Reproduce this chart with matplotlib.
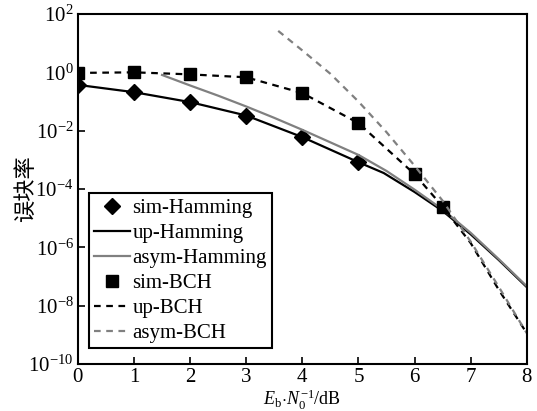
import matplotlib
matplotlib.use('Agg')
import matplotlib.pyplot as plt
import numpy as np

plt.rcParams['font.family'] = ['Liberation Serif', 'Noto Sans CJK SC']
plt.rcParams['mathtext.fontset'] = 'custom'
plt.rcParams['mathtext.rm'] = 'Liberation Serif'
plt.rcParams['mathtext.it'] = 'Liberation Serif:italic'

# 仿真点 (log10 值)
sim_x = [0, 1, 2, 3, 4, 5]
sim_ham = [-0.43, -0.68, -1.02, -1.48, -2.22, -3.08]
bch_x = [0, 1, 2, 3, 4, 5, 6, 6.5]
sim_bch = [-0.02, 0.0, -0.07, -0.17, -0.71, -1.74, -3.49, -4.6]

# 上界 / 渐近曲线 (log10 值)
up_ham_x = [0, 1, 2, 3, 4, 5, 5.45, 6, 6.5, 7, 7.5, 8]
up_ham = [-0.43, -0.68, -1.02, -1.48, -2.22, -3.08, -3.45, -4.1, -4.75, -5.55, -6.43, -7.36]
asym_ham_x = [1.5, 2, 2.5, 3, 3.5, 4, 4.5, 5, 5.5, 6, 6.5, 7, 7.5, 8]
asym_ham = [-0.09, -0.45, -0.8, -1.17, -1.56, -1.97, -2.4, -2.83, -3.38, -4.02, -4.7, -5.5, -6.4, -7.33]
up_bch_x = [0, 1, 2, 3, 4, 5, 6, 6.5, 7, 7.5, 8]
up_bch = [-0.02, 0.0, -0.07, -0.17, -0.71, -1.74, -3.49, -4.6, -5.85, -7.45, -8.94]
asym_bch_x = [3.57, 4, 4.5, 5, 5.5, 6, 6.5, 7, 7.5, 8]
asym_bch = [1.42, 0.75, -0.05, -1.0, -2.05, -3.2, -4.4, -5.8, -7.35, -8.94]

fig = plt.figure(figsize=(5.37, 4.11), dpi=100)
ax = fig.add_axes([0.145, 0.114, 0.836, 0.852])

ax.semilogy(sim_x, 10**np.array(sim_ham), 'D', color='k', ms=8, label='sim-Hamming')
ax.semilogy(up_ham_x, 10**np.array(up_ham), '-', color='k', lw=1.6, label='up-Hamming')
ax.semilogy(asym_ham_x, 10**np.array(asym_ham), '-', color='#808080', lw=1.6, label='asym-Hamming')
ax.semilogy(bch_x, 10**np.array(sim_bch), 's', color='k', ms=8, label='sim-BCH')
ax.semilogy(up_bch_x, 10**np.array(up_bch), '--', color='k', lw=1.6, dashes=(3, 2.5), label='up-BCH')
ax.semilogy(asym_bch_x, 10**np.array(asym_bch), '--', color='#808080', lw=1.6, dashes=(3, 2.5), label='asym-BCH')

ax.set_xlim(0, 8)
ax.set_ylim(1e-10, 1e2)
ax.set_xticks(range(9))
yt = [2, 0, -2, -4, -6, -8, -10]
ax.set_yticks([10.0**k for k in yt])
ax.set_yticklabels(['10$^{%d}$' % k if k >= 0 else '10$^{\u2212%d}$' % (-k) for k in yt])
ax.minorticks_off()
ax.tick_params(direction='in', length=5, width=1.2, labelsize=15, pad=3)
for s in ax.spines.values():
    s.set_linewidth(1.5)

ax.set_xlabel(r'$E_\mathrm{b}\!\cdot\!N_0^{-1}$/dB', fontsize=13, labelpad=0.5)
ax.set_ylabel('误块率', fontsize=16, family=['Noto Sans CJK SC'], labelpad=-6)

leg = ax.legend(loc='lower left', bbox_to_anchor=(0.024, 0.045), borderaxespad=0,
                fontsize=15, fancybox=False, edgecolor='k', framealpha=1,
                handlelength=1.75, handletextpad=0.1, labelspacing=0.26,
                borderpad=0.25, numpoints=1)
leg.get_frame().set_linewidth(1.5)

fig.savefig('out.png', dpi=100)
